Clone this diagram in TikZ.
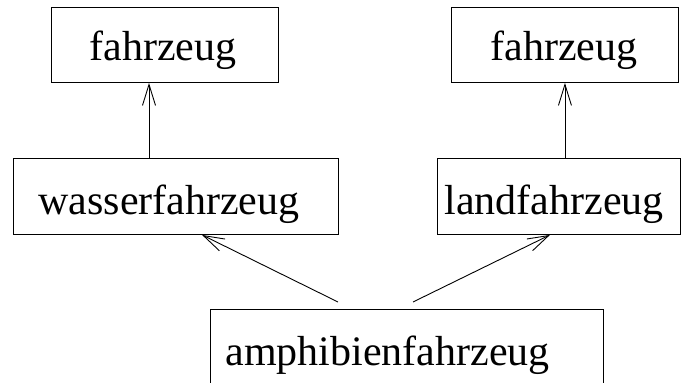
\documentclass[tikz,border=0pt]{standalone}
\usepackage{fontspec}
\setmainfont{Liberation Serif}
\usetikzlibrary{arrows.meta}
\begin{document}
\begin{tikzpicture}[x=1pt,y=-1pt,
  box/.style={draw=black, line width=0.9pt, anchor=north west,
    font=\fontsize{42}{50}\selectfont, text depth=0pt, inner ysep=0pt},
  topbox/.style={box, text height=32pt, minimum height=75pt},
  lowbox/.style={box, text height=37pt, minimum height=76pt},
  isa/.style={line width=0.9pt, -{Straight Barb[length=21pt,width=13pt,line width=0.9pt]}}]
  \useasboundingbox (0,0) rectangle (681,383);
  \clip (0,0) rectangle (681,383);

  % class boxes
  \node[topbox, inner xsep=38pt] (f1) at (51,7) {\makebox[151pt][l]{fahrzeug}};
  \node[topbox, inner xsep=39pt] (f2) at (451,7) {\makebox[149pt][l]{fahrzeug}};
  \node[lowbox, inner xsep=25pt] (w) at (13,158) {\makebox[275pt][l]{wasserfahrzeug}};
  \node[lowbox, inner xsep=7pt] (l) at (437,158) {\makebox[229pt][l]{landfahrzeug}};
  \node[lowbox, inner xsep=15pt] (a) at (210,309) {\makebox[363pt][l]{amphibienfahrzeug}};

  % inheritance arrows
  \draw[isa] ([xshift=136pt]w.north west) -- ([xshift=136pt]w.north west |- f1.south);
  \draw[isa] (l.north -| f2.south) -- (f2.south);
  \draw[isa] ([shift={(128pt,7pt)}]a.north west) -- ([xshift=189pt]w.south west);
  \draw[isa] ([shift={(203pt,7pt)}]a.north west) -- ([xshift=113pt]l.south west);
\end{tikzpicture}
\end{document}
